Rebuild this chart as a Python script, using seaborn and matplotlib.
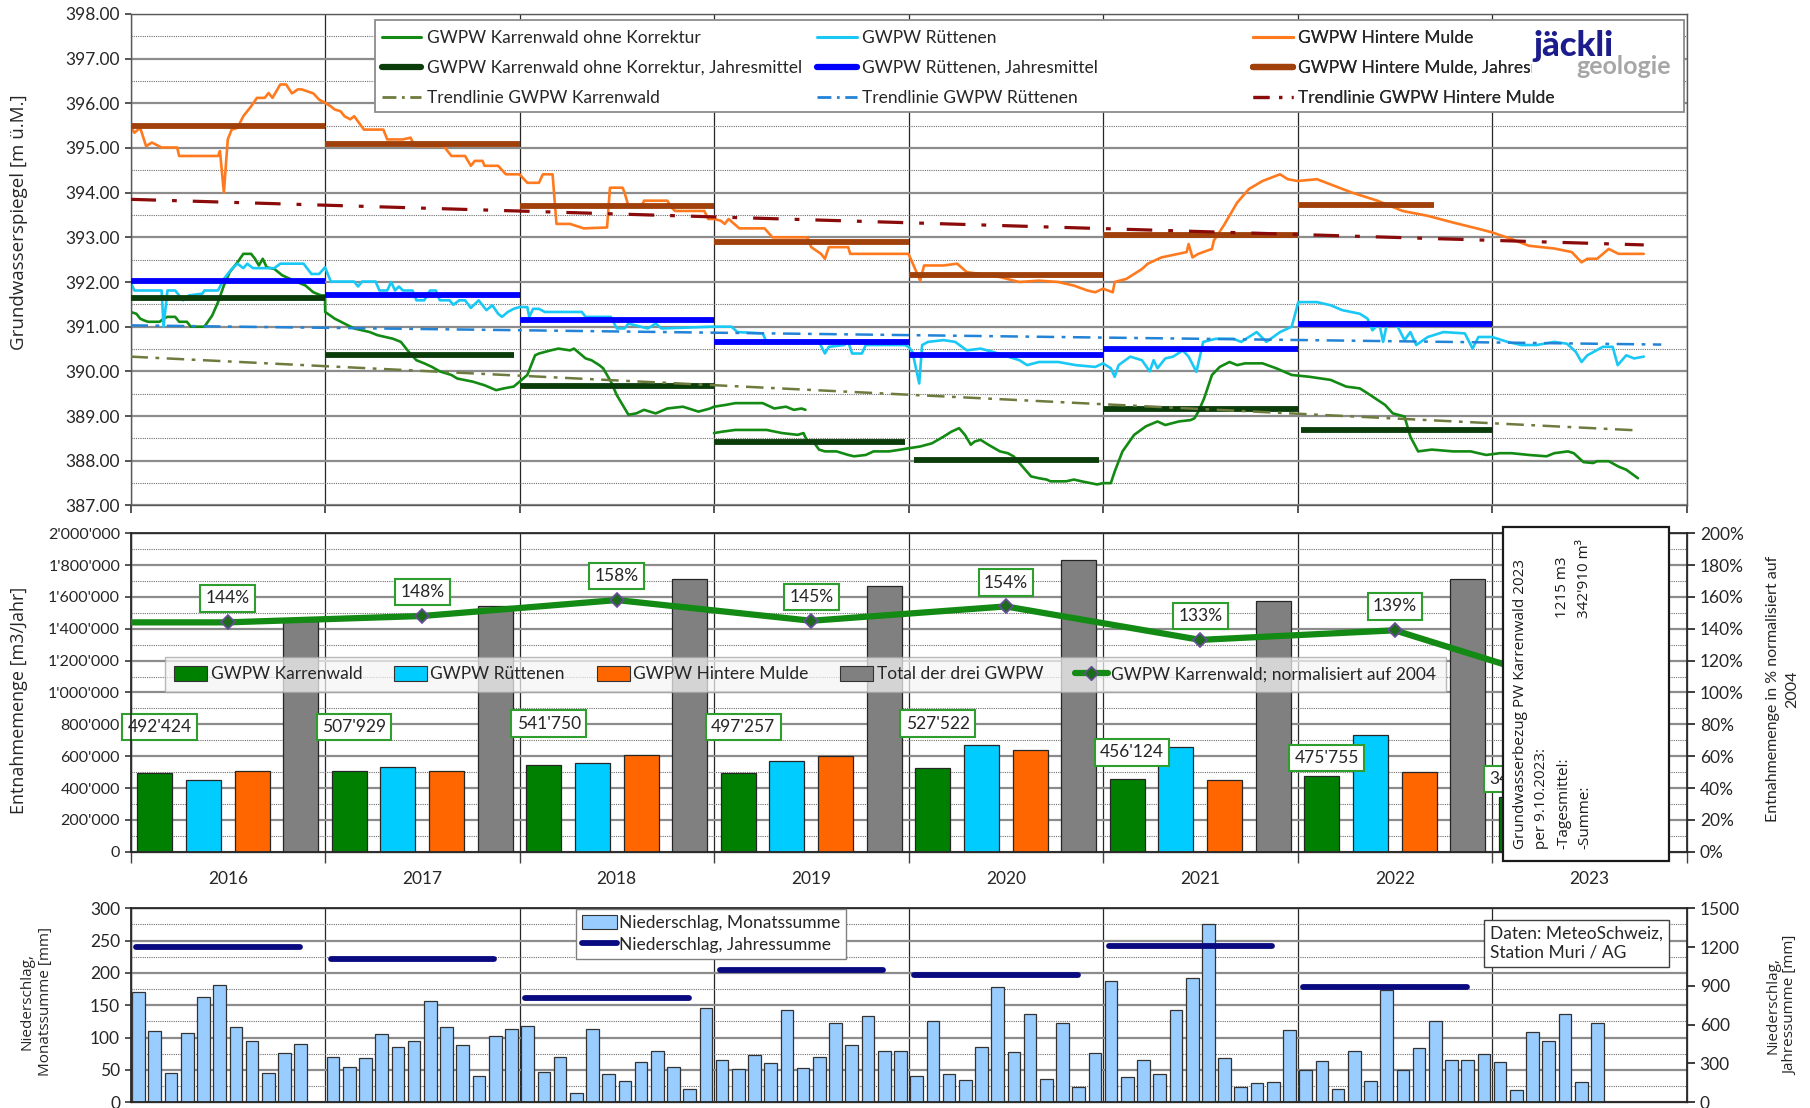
import numpy as np
import pandas as pd
import seaborn as sns
import matplotlib.pyplot as plt
from matplotlib.patches import Rectangle, Patch
from matplotlib.lines import Line2D
from matplotlib.ticker import FuncFormatter, MultipleLocator

# ---------------- data: groundwater levels ----------------
orange_t = [2016.00, 2016.02, 2016.05, 2016.08, 2016.11, 2016.16, 2016.24, 2016.25, 2016.45, 2016.46,
            2016.48, 2016.50, 2016.52, 2016.55, 2016.58, 2016.62, 2016.65, 2016.69, 2016.71, 2016.73,
            2016.77, 2016.80, 2016.83, 2016.86, 2016.88, 2016.94, 2016.97, 2017.00, 2017.03, 2017.05,
            2017.08, 2017.10, 2017.13, 2017.15, 2017.20, 2017.30, 2017.32, 2017.40, 2017.44, 2017.46,
            2017.61, 2017.65, 2017.72, 2017.75, 2017.77, 2017.81, 2017.82, 2017.89, 2017.93, 2018.00,
            2018.04, 2018.10, 2018.12, 2018.17, 2018.19, 2018.26, 2018.33, 2018.45, 2018.465, 2018.53,
            2018.54, 2018.56, 2018.63, 2018.64, 2018.76, 2018.78, 2018.80, 2018.95, 2018.97, 2019.00,
            2019.035, 2019.055, 2019.075, 2019.13, 2019.26, 2019.30, 2019.48, 2019.50, 2019.55, 2019.57,
            2019.59, 2019.69, 2019.70, 2020.00, 2020.06, 2020.08, 2020.18, 2020.25, 2020.30, 2020.37,
            2020.47, 2020.57, 2020.67, 2020.77, 2020.85, 2020.92, 2020.96, 2021.00, 2021.05, 2021.06,
            2021.12, 2021.20, 2021.23, 2021.30, 2021.43, 2021.44, 2021.46, 2021.49, 2021.56, 2021.57,
            2021.62, 2021.69, 2021.75, 2021.82, 2021.91, 2021.95, 2022.00, 2022.10, 2022.19, 2022.28,
            2022.41, 2022.54, 2022.67, 2022.80, 2022.93, 2023.00, 2023.10, 2023.19, 2023.32, 2023.41,
            2023.46, 2023.49, 2023.54, 2023.60, 2023.65, 2023.78]
orange_v = [395.49, 395.34, 395.45, 395.04, 395.12, 395.01, 395.01, 394.82, 394.82, 394.93,
            394.00, 395.19, 395.41, 395.45, 395.71, 395.93, 396.12, 396.12, 396.23, 396.12,
            396.42, 396.42, 396.22, 396.31, 396.31, 396.22, 396.08, 396.01, 395.93, 395.86,
            395.82, 395.71, 395.64, 395.71, 395.41, 395.41, 395.19, 395.19, 395.23, 395.04,
            395.04, 394.82, 394.82, 394.60, 394.71, 394.71, 394.60, 394.60, 394.41, 394.41,
            394.22, 394.22, 394.41, 394.41, 393.30, 393.30, 393.20, 393.22, 394.11, 394.11,
            394.00, 393.70, 393.70, 393.82, 393.82, 393.67, 393.59, 393.59, 393.41, 393.41,
            393.37, 393.30, 393.41, 393.20, 393.20, 393.00, 393.00, 392.78, 392.63, 392.52,
            392.78, 392.78, 392.63, 392.63, 392.03, 392.37, 392.37, 392.41, 392.22, 392.18,
            392.11, 392.00, 392.03, 392.00, 391.92, 391.81, 391.77, 391.85, 391.77, 392.00,
            392.07, 392.29, 392.41, 392.55, 392.67, 392.85, 392.55, 392.63, 392.74, 392.93,
            393.26, 393.78, 394.08, 394.26, 394.41, 394.30, 394.26, 394.30, 394.15, 394.00,
            393.82, 393.59, 393.48, 393.33, 393.19, 393.11, 392.96, 392.81, 392.75, 392.67,
            392.44, 392.52, 392.52, 392.74, 392.63, 392.63]

cyan_t = [2016.00, 2016.02, 2016.16, 2016.17, 2016.19, 2016.23, 2016.27, 2016.30, 2016.37, 2016.38,
          2016.45, 2016.48, 2016.52, 2016.55, 2016.58, 2016.60, 2016.63, 2016.74, 2016.77, 2016.89,
          2016.93, 2016.97, 2017.00, 2017.03, 2017.15, 2017.17, 2017.19, 2017.26, 2017.28, 2017.32,
          2017.34, 2017.36, 2017.38, 2017.40, 2017.45, 2017.47, 2017.51, 2017.54, 2017.57, 2017.59,
          2017.64, 2017.66, 2017.69, 2017.72, 2017.75, 2017.79, 2017.83, 2017.86, 2017.89, 2017.91,
          2017.94, 2017.97, 2018.00, 2018.04, 2018.05, 2018.07, 2018.10, 2018.13, 2018.32, 2018.34,
          2018.41, 2018.47, 2018.50, 2018.54, 2018.56, 2018.66, 2018.70, 2018.73, 2018.99, 2019.09,
          2019.12, 2019.25, 2019.27, 2019.54, 2019.57, 2019.59, 2019.67, 2019.69, 2019.71, 2019.76,
          2019.78, 2019.98, 2020.00, 2020.02, 2020.055, 2020.07, 2020.10, 2020.18, 2020.24, 2020.30,
          2020.37, 2020.43, 2020.49, 2020.57, 2020.61, 2020.67, 2020.77, 2020.86, 2020.96, 2021.00,
          2021.04, 2021.06, 2021.08, 2021.14, 2021.20, 2021.24, 2021.26, 2021.28, 2021.32, 2021.36,
          2021.41, 2021.44, 2021.48, 2021.515, 2021.58, 2021.67, 2021.71, 2021.79, 2021.84, 2021.91,
          2021.97, 2022.004, 2022.10, 2022.17, 2022.23, 2022.32, 2022.36, 2022.385, 2022.42, 2022.44,
          2022.46, 2022.515, 2022.55, 2022.58, 2022.61, 2022.67, 2022.75, 2022.86, 2022.90, 2022.93,
          2023.00, 2023.08, 2023.15, 2023.23, 2023.32, 2023.385, 2023.43, 2023.46, 2023.49, 2023.57,
          2023.62, 2023.646, 2023.69, 2023.73, 2023.78]
cyan_v = [392.00, 391.81, 391.81, 391.00, 391.81, 391.81, 391.59, 391.70, 391.74, 391.81,
          391.81, 392.07, 392.29, 392.41, 392.31, 392.41, 392.31, 392.31, 392.41, 392.41,
          392.18, 392.18, 392.33, 392.01, 392.01, 391.90, 392.01, 392.01, 391.81, 391.81,
          392.00, 391.81, 391.90, 391.81, 391.81, 391.59, 391.59, 391.81, 391.81, 391.59,
          391.59, 391.49, 391.59, 391.59, 391.42, 391.59, 391.37, 391.48, 391.29, 391.22,
          391.33, 391.40, 391.44, 391.44, 391.22, 391.40, 391.40, 391.33, 391.33, 391.22,
          391.22, 391.22, 390.96, 390.96, 391.07, 390.96, 391.07, 390.96, 391.00, 391.00,
          390.88, 390.85, 390.66, 390.66, 390.40, 390.55, 390.59, 390.66, 390.40, 390.40,
          390.59, 390.59, 390.55, 390.44, 389.73, 390.59, 390.66, 390.70, 390.66, 390.47,
          390.51, 390.44, 390.36, 390.25, 390.14, 390.21, 390.21, 390.14, 390.10, 390.18,
          390.07, 389.88, 390.14, 390.33, 390.25, 390.00, 390.25, 390.07, 390.29, 390.33,
          390.47, 390.33, 389.99, 390.66, 390.73, 390.73, 390.66, 390.88, 390.66, 390.88,
          391.00, 391.55, 391.55, 391.48, 391.37, 391.29, 391.18, 390.92, 391.07, 390.66,
          391.07, 391.00, 390.70, 390.88, 390.59, 390.77, 390.88, 390.85, 390.51, 390.77,
          390.77, 390.66, 390.59, 390.59, 390.66, 390.62, 390.44, 390.21, 390.36, 390.55,
          390.55, 390.14, 390.36, 390.29, 390.33]

# Karrenwald has two overlapping logger segments in 2019
green_a_t = [2016.00, 2016.03, 2016.05, 2016.07, 2016.09, 2016.15, 2016.17, 2016.19, 2016.23, 2016.25,
             2016.29, 2016.31, 2016.38, 2016.42, 2016.45, 2016.48, 2016.51, 2016.55, 2016.58, 2016.62,
             2016.64, 2016.66, 2016.68, 2016.70, 2016.74, 2016.78, 2016.84, 2016.90, 2016.94, 2016.98,
             2017.00, 2017.001, 2017.05, 2017.10, 2017.15, 2017.19, 2017.23, 2017.27, 2017.35, 2017.39,
             2017.43, 2017.47, 2017.51, 2017.55, 2017.59, 2017.65, 2017.68, 2017.76, 2017.82, 2017.88,
             2017.92, 2017.97, 2018.00, 2018.04, 2018.08, 2018.10, 2018.16, 2018.20, 2018.26, 2018.28,
             2018.34, 2018.37, 2018.41, 2018.43, 2018.47, 2018.50, 2018.56, 2018.60, 2018.64, 2018.70,
             2018.76, 2018.84, 2018.92, 2018.98, 2019.00, 2019.06, 2019.11, 2019.19, 2019.25, 2019.31,
             2019.37, 2019.41, 2019.45, 2019.47]
green_a_v = [391.33, 391.29, 391.18, 391.14, 391.11, 391.11, 391.18, 391.22, 391.22, 391.11,
             391.11, 391.00, 391.00, 391.25, 391.55, 391.92, 392.22, 392.44, 392.63, 392.63,
             392.52, 392.37, 392.52, 392.33, 392.29, 392.15, 392.03, 391.92, 391.77, 391.70,
             391.70, 391.33, 391.18, 391.07, 390.96, 390.92, 390.88, 390.81, 390.73, 390.66,
             390.44, 390.25, 390.18, 390.10, 390.00, 389.92, 389.84, 389.77, 389.69, 389.58,
             389.62, 389.66, 389.77, 389.92, 390.36, 390.40, 390.47, 390.51, 390.47, 390.51,
             390.29, 390.25, 390.14, 390.07, 389.77, 389.47, 389.03, 389.06, 389.14, 389.06,
             389.17, 389.21, 389.10, 389.17, 389.21, 389.25, 389.29, 389.29, 389.29, 389.17,
             389.21, 389.14, 389.17, 389.14]
green_b_t = [2019.00, 2019.04, 2019.11, 2019.19, 2019.27, 2019.35, 2019.43, 2019.46, 2019.48, 2019.51,
             2019.54, 2019.57, 2019.63, 2019.69, 2019.72, 2019.78, 2019.82, 2019.90, 2019.96, 2020.00,
             2020.06, 2020.12, 2020.18, 2020.22, 2020.26, 2020.29, 2020.32, 2020.34, 2020.37, 2020.41,
             2020.47, 2020.51, 2020.54, 2020.57, 2020.63, 2020.67, 2020.71, 2020.73, 2020.81, 2020.85,
             2020.89, 2020.97, 2021.00, 2021.04, 2021.06, 2021.10, 2021.16, 2021.22, 2021.28, 2021.32,
             2021.39, 2021.45, 2021.47, 2021.49, 2021.52, 2021.56, 2021.60, 2021.65, 2021.69, 2021.73,
             2021.82, 2021.89, 2021.97, 2022.06, 2022.17, 2022.25, 2022.32, 2022.36, 2022.45, 2022.49,
             2022.55, 2022.58, 2022.62, 2022.69, 2022.80, 2022.89, 2022.97, 2023.04, 2023.10, 2023.19,
             2023.28, 2023.32, 2023.39, 2023.42, 2023.47, 2023.52, 2023.54, 2023.60, 2023.65, 2023.69,
             2023.75]
green_b_v = [388.62, 388.65, 388.69, 388.69, 388.69, 388.62, 388.58, 388.62, 388.43, 388.43,
             388.25, 388.21, 388.21, 388.13, 388.10, 388.13, 388.21, 388.21, 388.25, 388.28,
             388.32, 388.39, 388.54, 388.65, 388.73, 388.58, 388.36, 388.43, 388.47, 388.36,
             388.21, 388.17, 388.10, 387.95, 387.65, 387.61, 387.58, 387.54, 387.54, 387.58,
             387.54, 387.47, 387.50, 387.50, 387.76, 388.21, 388.58, 388.77, 388.88, 388.80,
             388.88, 388.91, 388.95, 389.10, 389.40, 389.92, 390.10, 390.21, 390.14, 390.18,
             390.18, 390.07, 389.92, 389.88, 389.81, 389.66, 389.62, 389.51, 389.25, 389.06,
             388.99, 388.54, 388.21, 388.25, 388.21, 388.21, 388.13, 388.17, 388.17, 388.13,
             388.10, 388.17, 388.21, 388.17, 387.97, 387.95, 387.99, 387.99, 387.87, 387.80,
             387.61]

# yearly means: (start, end, level)
green_means = [(2016.0, 2017.0, 391.65), (2017.0, 2017.97, 390.37), (2018.0, 2019.0, 389.68),
               (2019.0, 2019.98, 388.43), (2020.03, 2020.98, 388.02), (2021.0, 2022.0, 389.15),
               (2022.02, 2023.0, 388.69)]
blue_means = [(2016.0, 2017.0, 392.03), (2017.0, 2018.0, 391.70), (2018.0, 2019.0, 391.15),
              (2019.0, 2020.0, 390.66), (2020.0, 2021.0, 390.36), (2021.0, 2022.0, 390.50),
              (2022.0, 2023.0, 391.05)]
brown_means = [(2016.0, 2017.0, 395.50), (2017.0, 2018.0, 395.08), (2018.0, 2019.0, 393.70),
               (2019.0, 2020.0, 392.90), (2020.0, 2021.0, 392.15), (2021.0, 2022.0, 393.05),
               (2022.0, 2022.7, 393.73)]

# trend line end points (t, level)
trend_karr = [(2016.0, 390.33), (2023.75, 388.68)]
trend_rutt = [(2016.0, 391.03), (2023.87, 390.60)]
trend_hint = [(2016.0, 393.85), (2023.78, 392.83)]

# ---------------- data: abstraction volumes ----------------
years = [2016, 2017, 2018, 2019, 2020, 2021, 2022, 2023]
karr = [492424, 507929, 541750, 497257, 527522, 456124, 475755, 342910]
rutt = [449000, 529000, 558000, 572000, 667000, 659000, 732000, np.nan]
hint = [507000, 507000, 609000, 601000, 638000, 452000, 500000, np.nan]
total = [1448000, 1543000, 1710000, 1667000, 1833000, 1572000, 1710000, np.nan]
pct_years = [2015, 2016, 2017, 2018, 2019, 2020, 2021, 2022, 2023]
pct = [144, 144, 148, 158, 145, 154, 133, 139, 101]

# ---------------- data: precipitation ----------------
rain_month = [170, 110, 45, 107, 163, 182, 117, 95, 46, 76, 90, 1,
              70, 55, 68, 105, 85, 94, 157, 117, 89, 41, 103, 114,
              118, 47, 70, 15, 114, 44, 33, 63, 79, 55, 20, 146,
              65, 51, 73, 60, 143, 53, 70, 122, 88, 134, 80, 80,
              40, 125, 43, 35, 85, 178, 77, 137, 36, 122, 23, 76,
              188, 39, 66, 43, 142, 192, 275, 69, 23, 30, 31, 112,
              50, 64, 21, 80, 33, 174, 50, 84, 125, 65, 65, 75,
              62, 19, 109, 95, 137, 31, 122]
rain_year = [1200, 1105, 810, 1025, 985, 1210, 890]

# ---------------- style ----------------
c_green, c_cyan, c_orange = "#138A13", "#19C8F5", "#FF7A1E"
c_green_m, c_blue_m, c_brown_m = "#0B3D0B", "#0000FF", "#A0400A"
c_tr_k, c_tr_r, c_tr_h = "#6E7B3E", "#2383D6", "#8B0A0A"
bar_cols = ["#008000", "#00CCFF", "#FF6600", "#808080"]

sns.set_theme(style="white")
plt.rcParams["font.family"] = ["Lato", "DejaVu Sans"]
lab_font = ["Open Sans", "DejaVu Sans"]

fig = plt.figure(figsize=(18.1, 11.08), dpi=100)
L, W = 0.0721, 0.8597
pos1 = [L, 0.5438, W, 0.4437]
pos2 = [L, 0.2313, W, 0.2875]
pos3 = [L, 0.0052, W, 0.1750]
ax1 = fig.add_axes(pos1)
ax2 = fig.add_axes(pos2)
ax3 = fig.add_axes(pos3)

def apos(v, pos=None):
    return f"{v:,.0f}".replace(",", "'")

def frame(ax):
    for s in ax.spines.values():
        s.set_color("#595959")
        s.set_linewidth(1.0)

# ================= top panel =================
lines = pd.concat([
    pd.DataFrame({"t": green_a_t, "v": green_a_v, "seg": "a"}),
    pd.DataFrame({"t": green_b_t, "v": green_b_v, "seg": "b"}),
])
sns.lineplot(data=lines, x="t", y="v", units="seg", estimator=None, sort=False,
             color=c_green, lw=1.9, ax=ax1, legend=False)
sns.lineplot(x=cyan_t, y=cyan_v, estimator=None, sort=False, color=c_cyan, lw=1.9, ax=ax1)
sns.lineplot(x=orange_t, y=orange_v, estimator=None, sort=False, color=c_orange, lw=1.9, ax=ax1)

for means, col in [(green_means, c_green_m), (blue_means, c_blue_m), (brown_means, c_brown_m)]:
    for a, b, lev in means:
        ax1.hlines(lev, a, b, color=col, lw=4.2, zorder=3)

for tr, col, lw, ls in [(trend_karr, c_tr_k, 1.8, (0, (7, 3, 1.5, 3))),
                        (trend_rutt, c_tr_r, 1.8, (0, (7, 3, 1.5, 3))),
                        (trend_hint, c_tr_h, 2.3, (0, (8, 5, 1.5, 5)))]:
    ax1.plot([p[0] for p in tr], [p[1] for p in tr], color=col, lw=lw, ls=ls, zorder=4)

ax1.set_xlim(2016, 2024)
ax1.set_ylim(387, 398)
ax1.yaxis.set_major_locator(MultipleLocator(1))
ax1.yaxis.set_minor_locator(MultipleLocator(0.5))
ax1.yaxis.set_major_formatter(FuncFormatter(lambda v, p: f"{v:.2f}"))
ax1.set_xticks(range(2016, 2025))
ax1.set_xticklabels([])
ax1.grid(axis="y", which="major", color="#8c8c8c", lw=1.6)
ax1.grid(axis="y", which="minor", color="#707070", lw=0.8, ls=(0, (1, 1)))
ax1.grid(axis="x", which="major", color="#262626", lw=0.9)
ax1.tick_params(axis="x", direction="out", length=6, color="#404040", bottom=True)
ax1.tick_params(axis="y", which="major", direction="out", length=4, color="#404040",
                left=True, labelsize=12.5, labelcolor="#262626")
ax1.tick_params(axis="y", which="minor", length=0)
ax1.set_xlabel("")
ax1.set_ylabel("Grundwasserspiegel [m ü.M.]", family=lab_font, fontsize=13.5, color="#262626")
ax1.yaxis.set_label_coords(-0.066, 0.577)
frame(ax1)

# legend box with three columns
ax1.add_patch(Rectangle((0.157, 0.80), 0.8415, 0.188, transform=ax1.transAxes,
                        fc="white", ec="#8c8c8c", lw=1.3, zorder=6))
leg_cols = [
    ([Line2D([], [], color=c_green, lw=2.2), Line2D([], [], color=c_green_m, lw=4.5),
      Line2D([], [], color=c_tr_k, lw=2, ls=(0, (5, 2, 1, 2)))],
     ["GWPW Karrenwald ohne Korrektur", "GWPW Karrenwald ohne Korrektur, Jahresmittel",
      "Trendlinie GWPW Karrenwald"], 0.158),
    ([Line2D([], [], color=c_cyan, lw=2.2), Line2D([], [], color=c_blue_m, lw=4.5),
      Line2D([], [], color=c_tr_r, lw=2, ls=(0, (5, 2, 1, 2)))],
     ["GWPW Rüttenen", "GWPW Rüttenen, Jahresmittel", "Trendlinie GWPW Rüttenen"], 0.438),
    ([Line2D([], [], color=c_orange, lw=2.2), Line2D([], [], color=c_brown_m, lw=4.5),
      Line2D([], [], color=c_tr_h, lw=2.3, ls=(0, (5, 3, 1, 3)))],
     ["GWPW Hintere Mulde", "GWPW Hintere Mulde, Jahresmittel", "Trendlinie GWPW Hintere Mulde"], 0.718),
]
for handles, labels, x0 in leg_cols:
    lg = ax1.legend(handles, labels, loc="upper left", bbox_to_anchor=(x0, 0.978),
                    frameon=False, fontsize=12.5, handlelength=2.3, handletextpad=0.3,
                    labelspacing=0.82, borderpad=0.3, borderaxespad=0)
    lg.set_zorder(7)
    ax1.add_artist(lg)

# logo
ax1.add_patch(Rectangle((0.9005, 0.862), 0.093, 0.115, transform=ax1.transAxes,
                        fc="white", ec="none", zorder=8))
ax1.text(0.9015, 0.934, "jäckli", transform=ax1.transAxes, fontsize=25, fontweight="black",
         color="#1C1C8C", va="center", ha="left", zorder=9)
ax1.text(0.990, 0.893, "geologie", transform=ax1.transAxes, fontsize=18, fontweight="bold",
         color="#A6A6A6", va="center", ha="right", zorder=9)

# ================= middle panel =================
names = ["GWPW Karrenwald", "GWPW Rüttenen", "GWPW Hintere Mulde", "Total der drei GWPW"]
ylab = [str(y) for y in years]
bars = pd.DataFrame({"Jahr": ylab * 4, "Menge": karr + rutt + hint + total,
                     "Serie": np.repeat(names, len(years))}).dropna()
sns.barplot(data=bars, x="Jahr", y="Menge", hue="Serie", hue_order=names, order=ylab,
            palette=bar_cols, saturation=1, width=1.0, gap=0.28, errorbar=None,
            edgecolor="#262626", linewidth=0.9, legend=False, ax=ax2, zorder=2)
ax2.set_xlim(-0.5, 7.5)
ax2.set_ylim(0, 2000000)
ax2.yaxis.set_major_locator(MultipleLocator(200000))
ax2.yaxis.set_minor_locator(MultipleLocator(100000))
ax2.yaxis.set_major_formatter(FuncFormatter(apos))
ax2.set_axisbelow(True)
ax2.grid(axis="y", which="major", color="#8c8c8c", lw=1.6)
ax2.grid(axis="y", which="minor", color="#707070", lw=0.8, ls=(0, (1, 1)))
ax2.set_xticks(range(len(years)))
ax2.set_xticklabels(ylab)
ax2.set_xticks(np.arange(-0.5, 8.0, 1.0), minor=True)
ax2.grid(axis="x", which="minor", color="#262626", lw=0.9)
ax2.tick_params(axis="x", which="major", length=0, labelsize=12.5, pad=14, labelcolor="#262626")
ax2.tick_params(axis="x", which="minor", direction="out", length=8, color="#404040", bottom=True)
ax2.tick_params(axis="y", which="major", direction="out", length=4, left=True, color="#404040",
                labelsize=11.5, labelcolor="#262626")
ax2.tick_params(axis="y", which="minor", length=0)
ax2.set_xlabel("")
ax2.set_ylabel("Entnahmemenge [m3/Jahr]", family=lab_font, fontsize=13, color="#262626")
ax2.yaxis.set_label_coords(-0.066, 0.475)
frame(ax2)

label_y = [783000, 783000, 804000, 783000, 804000, 623000, 587000, 457000]
for i, (v, ly) in enumerate(zip(karr, label_y)):
    ax2.text(i - 0.35, ly, apos(v), ha="center", va="center", fontsize=12.5, color="#262626",
             zorder=6, bbox=dict(boxstyle="square,pad=0.3", fc="white", ec="#2E9E2E", lw=1.5))

ax2r = ax2.twinx()
pct_pos = [y - years[0] for y in pct_years]
sns.lineplot(x=pct_pos, y=pct, estimator=None, sort=False, color="#138A13", lw=4.5,
             marker="D", markersize=7, markerfacecolor="#1E6B1E", markeredgecolor="#6A4C9C",
             markeredgewidth=1.2, ax=ax2r, zorder=5)
ax2r.set_xlim(-0.5, 7.5)
ax2r.set_ylim(0, 200)
ax2r.yaxis.set_major_locator(MultipleLocator(20))
ax2r.yaxis.set_major_formatter(FuncFormatter(lambda v, p: f"{v:.0f}%"))
ax2r.tick_params(axis="y", direction="out", length=6, right=True, color="#262626",
                 labelsize=12.5, labelcolor="#262626")
ax2r.spines["right"].set_color("#262626")
ax2r.spines["right"].set_linewidth(1.2)
ax2r.set_ylabel("Entnahmemenge in % normalisiert auf\n2004", fontsize=11.5,
                color="#262626", linespacing=1.45)
ax2r.yaxis.set_label_coords(1.051, 0.51)
for p, v in zip(pct_pos, pct):
    if 0 <= p <= 6:
        ax2r.text(p, v + 15, f"{v}%", ha="center", va="center", fontsize=12.5, color="#262626",
                  zorder=6, bbox=dict(boxstyle="square,pad=0.3", fc="white", ec="#2E9E2E", lw=1.5))

mid_handles = [Patch(fc=c, ec="#333333", lw=0.8) for c in bar_cols] + [
    Line2D([], [], color="#138A13", lw=4.5, marker="D", markersize=7,
           markerfacecolor="#1E6B1E", markeredgecolor="#6A4C9C")]
lg2 = ax2r.legend(mid_handles, names + ["GWPW Karrenwald; normalisiert auf 2004"],
                  loc="lower left", bbox_to_anchor=(0.0163, 0.4746, 0.8346, 0.141), mode="expand",
                  ncol=5, fontsize=12.5, handlelength=1.9, handleheight=0.9, handletextpad=0.2,
                  columnspacing=1.6, borderpad=0.55, fancybox=False, framealpha=0.72,
                  facecolor="#F5F5F5", edgecolor="#A0A0A0")
lg2.set_zorder(8)

# info box for 2023
ax2r.add_patch(Rectangle((0.882, -0.029), 0.107, 1.047, transform=ax2r.transAxes, fc="white",
                         ec="#1a1a1a", lw=1.6, zorder=10, clip_on=False))
ax2r.text(0.914, 0.008, "Grundwasserbezug PW Karrenwald 2023\nper 9.10.2023:\n-Tagesmittel:\n-Summe:",
          transform=ax2r.transAxes, rotation=90, ha="center", va="bottom", multialignment="left",
          family=lab_font, fontsize=11, linespacing=1.6, color="#1a1a1a", zorder=11)
ax2r.text(0.9275, 0.735, "1215 m3\n342'910 m³", transform=ax2r.transAxes, rotation=90,
          ha="center", va="bottom", multialignment="left", family=lab_font, fontsize=11,
          linespacing=1.6, color="#1a1a1a", zorder=11)

# ================= bottom panel =================
rain_t = []
for y in years:
    for m in range(12):
        if len(rain_t) < len(rain_month):
            rain_t.append(y + (m + 0.5) / 12)
sns.barplot(x=rain_t, y=rain_month, native_scale=True, width=0.78, color="#99CCFF",
            saturation=1, edgecolor="#333333", linewidth=0.9, errorbar=None, ax=ax3, zorder=2)
ax3.set_xlim(2016, 2024)
ax3.set_ylim(0, 300)
ax3.yaxis.set_major_locator(MultipleLocator(50))
ax3.yaxis.set_minor_locator(MultipleLocator(25))
ax3.set_axisbelow(True)
ax3.grid(axis="y", which="major", color="#8c8c8c", lw=1.6)
ax3.grid(axis="y", which="minor", color="#707070", lw=0.8, ls=(0, (1, 1)))
ax3.set_xticks(range(2016, 2025))
ax3.set_xticklabels([])
ax3.grid(axis="x", which="major", color="#262626", lw=0.9)
ax3.tick_params(axis="x", length=0)
ax3.tick_params(axis="y", which="major", direction="out", length=4, left=True, color="#404040",
                labelsize=12.5, labelcolor="#262626")
ax3.tick_params(axis="y", which="minor", length=0)
ax3.set_xlabel("")
ax3.set_ylabel("Niederschlag,\nMonatssumme [mm]", family=lab_font, fontsize=11,
               color="#262626", linespacing=1.25)
ax3.yaxis.set_label_coords(-0.050, 0.52)
frame(ax3)

ax3r = ax3.twinx()
for y, s in zip(years, rain_year):
    ax3r.hlines(s, y + 0.03, y + 0.87, color="#0A0A80", lw=4.2, zorder=4, capstyle="round")
ax3r.set_ylim(0, 1500)
ax3r.yaxis.set_major_locator(MultipleLocator(300))
ax3r.tick_params(axis="y", direction="out", length=6, right=True, color="#262626",
                 labelsize=12.5, labelcolor="#262626")
ax3r.spines["right"].set_color("#262626")
ax3r.set_ylabel("Niederschlag,\nJahressumme [mm]", family=lab_font, fontsize=11,
                color="#262626", linespacing=1.25)
ax3r.yaxis.set_label_coords(1.051, 0.5)
ax3r.set_xlim(2016, 2024)

lg3 = ax3r.legend([Patch(fc="#99CCFF", ec="#333333", lw=0.8), Line2D([], [], color="#0A0A80", lw=4.2)],
                  ["Niederschlag, Monatssumme", "Niederschlag, Jahressumme"],
                  loc="center", bbox_to_anchor=(0.278, 0.75, 0.19, 0.238), fontsize=12.5,
                  handlelength=2.0, handleheight=0.9, handletextpad=0.1, labelspacing=0.3,
                  borderpad=0.35, borderaxespad=0, fancybox=False, framealpha=1,
                  edgecolor="#808080")
lg3.set_zorder(8)
ax3r.text(0.874, 0.82, "Daten: MeteoSchweiz,\nStation Muri / AG", transform=ax3r.transAxes,
          ha="left", va="center", fontsize=12.5, color="#262626", linespacing=1.2, zorder=9,
          bbox=dict(boxstyle="square,pad=0.35", fc="white", ec="#404040", lw=1.0))

# keep the panels exactly where they belong
for ax, p in [(ax1, pos1), (ax2, pos2), (ax2r, pos2), (ax3, pos3), (ax3r, pos3)]:
    ax.set_position(p)

fig.savefig("out.png", dpi=100)
